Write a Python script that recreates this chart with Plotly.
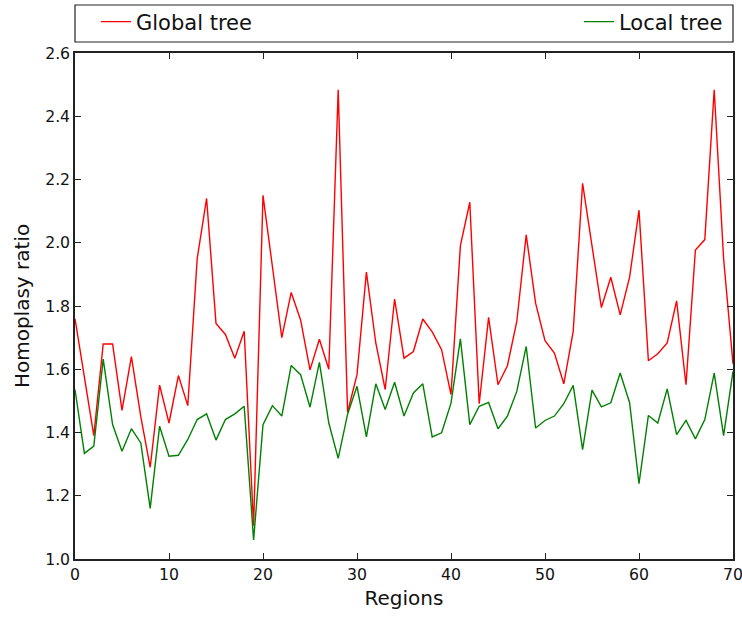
import plotly.graph_objects as go

regions = list(range(71))

global_tree = [1.76, 1.575, 1.39, 1.68, 1.68, 1.47, 1.64, 1.45, 1.29, 1.55,
               1.43, 1.58, 1.485, 1.95, 2.14, 1.745, 1.71, 1.635, 1.72, 1.105,
               2.15, 1.925, 1.70, 1.843, 1.756, 1.598, 1.695, 1.600, 2.484, 1.464,
               1.583, 1.907, 1.683, 1.536, 1.822, 1.635, 1.656, 1.759, 1.718, 1.662,
               1.520, 1.991, 2.128, 1.491, 1.764, 1.551, 1.611, 1.751, 2.025, 1.809,
               1.690, 1.651, 1.554, 1.720, 2.188, 1.99, 1.795, 1.891, 1.772, 1.891,
               2.103, 1.627, 1.649, 1.683, 1.816, 1.551, 1.977, 2.010, 2.484, 1.95,
               1.617]

local_tree = [1.536, 1.334, 1.357, 1.632, 1.425, 1.341, 1.412, 1.367, 1.160, 1.42,
              1.325, 1.328, 1.378, 1.441, 1.459, 1.376, 1.441, 1.459, 1.483, 1.060,
              1.425, 1.485, 1.452, 1.612, 1.583, 1.480, 1.622, 1.430, 1.318, 1.458,
              1.546, 1.386, 1.554, 1.473, 1.559, 1.452, 1.525, 1.554, 1.386, 1.399,
              1.493, 1.696, 1.425, 1.483, 1.495, 1.412, 1.452, 1.530, 1.672, 1.414,
              1.438, 1.452, 1.491, 1.549, 1.346, 1.534, 1.481, 1.494, 1.588, 1.494,
              1.238, 1.454, 1.430, 1.538, 1.393, 1.438, 1.380, 1.441, 1.588, 1.390,
              1.593]

x_ticks = [0, 10, 20, 30, 40, 50, 60, 70]
y_ticks = [1.0, 1.2, 1.4, 1.6, 1.8, 2.0, 2.2, 2.4, 2.6]
y_tick_labels = ["1.0", "1.2", "1.4", "1.6", "1.8", "2.0", "2.2", "2.4", "2.6"]

FONT = "DejaVu Sans"
PLOT_W = 658
PLOT_H = 506

fig = go.Figure()
fig.add_trace(go.Scatter(x=regions, y=global_tree, mode="lines", name="Global tree",
                         line=dict(color="#ff0000", width=1.4), legend="legend"))
fig.add_trace(go.Scatter(x=regions, y=local_tree, mode="lines", name="Local tree",
                         line=dict(color="#008000", width=1.4), legend="legend2"))

axis_common = dict(showline=True, linecolor="#222222", linewidth=1.5, mirror="allticks",
                   ticks="inside", ticklen=6, tickwidth=1, tickcolor="#222222",
                   showgrid=False, zeroline=False, ticklabeloverflow="allow",
                   tickfont=dict(family=FONT, size=15.7, color="#111111"))

fig.update_xaxes(range=[0, 70], tickvals=x_ticks,
                 title=dict(text="Regions", font=dict(family=FONT, size=20, color="#111111"), standoff=8),
                 **axis_common)
fig.update_yaxes(range=[1.0, 2.6], tickvals=y_ticks, ticktext=y_tick_labels,
                 title=dict(text="Homoplasy ratio", font=dict(family=FONT, size=20, color="#111111"), standoff=10),
                 **axis_common)

# legend box spanning the full axes width (matplotlib "expand" mode)
fig.add_shape(type="rect", xref="paper", yref="paper", x0=0, x1=1,
              y0=1 + 11 / PLOT_H, y1=1 + 48 / PLOT_H,
              line=dict(color="#222222", width=1.2), fillcolor="rgba(0,0,0,0)")

legend_style = dict(orientation="h", yanchor="middle", y=1 + 31 / PLOT_H,
                    font=dict(family=FONT, size=21, color="#111111"),
                    bgcolor="rgba(0,0,0,0)", borderwidth=0, itemwidth=30)

fig.update_layout(
    width=742, height=617,
    margin=dict(l=75, r=9, t=53, b=58, autoexpand=False),
    paper_bgcolor="white", plot_bgcolor="white",
    showlegend=True,
    legend=dict(x=(96 - 75) / PLOT_W, xanchor="left", **legend_style),
    legend2=dict(x=(728 - 75) / PLOT_W, xanchor="right", **legend_style),
)

fig.write_html("out.html")
